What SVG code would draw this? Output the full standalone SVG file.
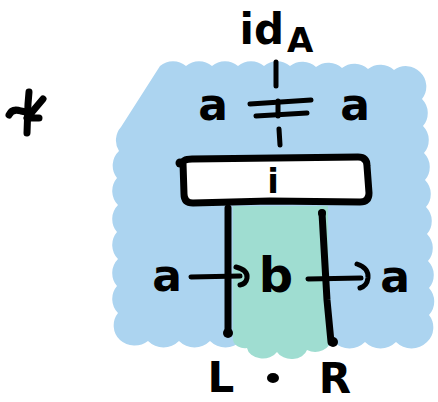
<svg xmlns="http://www.w3.org/2000/svg" width="438" height="402" viewBox="0 0 438 402">
  <style>
    .ink { fill: none; stroke: #000; stroke-width: 7; stroke-linecap: round; stroke-linejoin: round; }
    .thin { fill: none; stroke: #000; stroke-width: 5; stroke-linecap: round; stroke-linejoin: round; }
    .lbl { font-family: "DejaVu Sans", sans-serif; font-weight: bold; fill: #000; text-anchor: middle; }
  </style>

  <!-- background regions -->
  <g id="regions">
    <path id="outer-region" fill="#acd4f0"
      d="M160,66
         a20 20 0 0 1 26 0 a20 20 0 0 1 26 0 a20 20 0 0 1 26 0 a20 20 0 0 1 26 0 a20 20 0 0 1 26 0
         a20 20 0 0 1 26 1 a20 20 0 0 1 26 1 a20 20 0 0 1 26 1 a20 20 0 0 1 26 1 a20 20 0 0 1 26 2
         a20 20 0 0 1 2 27 a20 20 0 0 1 1 27 a20 20 0 0 1 1 27 a20 20 0 0 1 1 27 a20 20 0 0 1 1 27
         a20 20 0 0 1 1 27 a20 20 0 0 1 1 27 a20 20 0 0 1 1 27 a20 20 0 0 1 0 27 a20 20 0 0 1 -2 27
         a22 22 0 0 1 -31 0 a22 22 0 0 1 -31 0 a22 22 0 0 1 -31 0 a22 22 0 0 1 -31 0 a22 22 0 0 1 -31 -1
         a22 22 0 0 1 -31 0 a22 22 0 0 1 -31 0 a22 22 0 0 1 -31 0 a22 22 0 0 1 -31 0 a22 22 0 0 1 -28 -1
         a20 20 0 0 1 -2 -27 a20 20 0 0 1 -1 -27 a20 20 0 0 1 1 -27 a20 20 0 0 1 -1 -27 a20 20 0 0 1 1 -27
         a20 20 0 0 1 -1 -27 a20 20 0 0 1 2 -27 a20 20 0 0 1 2 -24
         L160,66 Z"/>
    <path id="inner-region" fill="#9fddd1"
      d="M233,206 L328,206 L329,340 a14 10 0 0 1 -22 10 a16 12 0 0 1 -30 2 a16 12 0 0 1 -30 -4 a12 10 0 0 1 -14 -8 Z"/>
  </g>

  <!-- box with label -->
  <g id="box-i">
    <path class="ink" d="M183,163 L184,194 Q184,203 193,203 L270,201 L360,202 Q369,202 369,193 L367,166 Q367,157 358,157 L192,159 Q183,159 183,163 Z" style="fill:#fff"/>
    <circle cx="180" cy="163" r="4.5" fill="#000"/>
    <text class="lbl" x="273" y="193" font-size="34">i</text>
  </g>

  <!-- connectors -->
  <g id="connectors">
    <path class="thin" d="M276,62 L276,86"/>
    <path class="thin" d="M279,129 L280,145"/>
    <path class="ink" d="M228,208 L228,333"/>
    <path class="ink" d="M322,213 L327,300 L331,342"/>
    <circle cx="322" cy="213" r="4" fill="#000"/>
    <circle cx="228" cy="333" r="5" fill="#000"/>
    <circle cx="333" cy="342" r="5" fill="#000"/>
    <!-- arrows with hooked heads -->
    <path class="thin" d="M191,277 L240,276"/>
    <path class="thin" d="M236,267 Q248,270 247,278 Q246,284 240,285"/>
    <path class="thin" d="M308,279 L361,278"/>
    <path class="thin" d="M357,264 Q369,268 368,278 Q367,286 360,288"/>
  </g>

  <!-- equation a = a -->
  <g id="equation">
    <text class="lbl" x="213" y="120" font-size="44">a</text>
    <path class="thin" d="M250,104 L311,100"/>
    <path class="thin" d="M256,116 L307,113"/>
    <path class="thin" d="M278,101 L278,116"/>
    <text class="lbl" x="355" y="120" font-size="44">a</text>
  </g>

  <!-- identity label -->
  <g id="label-id">
    <text class="lbl" x="284" y="44" font-size="42" style="text-anchor:end">id</text>
    <text class="lbl" x="287" y="52" font-size="34" style="text-anchor:start">A</text>
  </g>

  <!-- middle row labels -->
  <g id="labels-mid">
    <text class="lbl" x="167" y="291" font-size="44">a</text>
    <text class="lbl" x="276" y="292" font-size="48">b</text>
    <text class="lbl" x="395" y="292" font-size="44">a</text>
  </g>

  <!-- bottom labels -->
  <g id="labels-bottom">
    <text class="lbl" x="221" y="392" font-size="42">L</text>
    <ellipse cx="273" cy="378" rx="6" ry="5" fill="#000"/>
    <text class="lbl" x="335" y="393" font-size="42">R</text>
  </g>

  <!-- side mark -->
  <g id="mark">
    <path class="ink" d="M29,92 L28,104 L27,133"/>
    <path class="ink" d="M9,115 Q12,108 21,111 L26,112"/>
    <path class="ink" d="M43,99 L27,118 L39,118"/>
  </g>
</svg>
